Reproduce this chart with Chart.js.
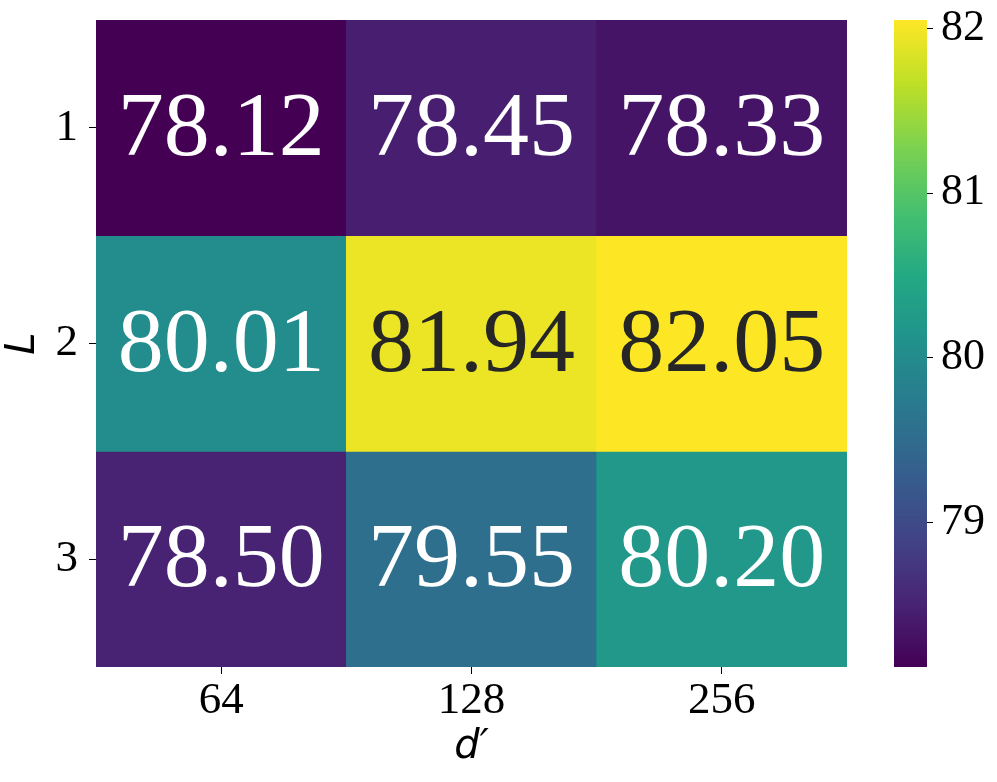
<!DOCTYPE html>
<html>
<head>
<meta charset="utf-8">
<script src="https://cdn.jsdelivr.net/npm/chart.js@4"></script>
<style>
  html, body { margin: 0; padding: 0; background: #fff; }
  #wrap { width: 997px; height: 782px; }
</style>
</head>
<body>
<div id="wrap"><canvas id="heat" width="997" height="782"></canvas></div>
<script>
// heatmap values, rows = L, columns = d'
const colLabels = ['64', '128', '256'];
const rowLabels = ['1', '2', '3'];
const row1 = [78.12, 78.45, 78.33];
const row2 = [80.01, 81.94, 82.05];
const row3 = [78.50, 79.55, 80.20];
const rows = [row1, row2, row3];
const cbarTicks = [79, 80, 81, 82];

const vmin = Math.min(...rows.flat());
const vmax = Math.max(...rows.flat());

// viridis stops
const viridis = ['#440154', '#482475', '#414487', '#355f8d', '#2a788e', '#21918c',
  '#22a884', '#44bf70', '#7ad151', '#bddf26', '#fde725'];

function hex2rgb(h) {
  return [parseInt(h.slice(1, 3), 16), parseInt(h.slice(3, 5), 16), parseInt(h.slice(5, 7), 16)];
}
function cmap(t) {
  t = Math.max(0, Math.min(1, t));
  const p = t * (viridis.length - 1);
  const i = Math.min(Math.floor(p), viridis.length - 2);
  const f = p - i;
  const a = hex2rgb(viridis[i]), b = hex2rgb(viridis[i + 1]);
  return a.map((c, k) => Math.round(c + (b[k] - c) * f));
}
function colorFor(v) {
  const c = cmap((v - vmin) / (vmax - vmin));
  return 'rgb(' + c.join(',') + ')';
}
function textColorFor(v) {
  const c = cmap((v - vmin) / (vmax - vmin)).map(x => {
    x /= 255;
    return x <= 0.03928 ? x / 12.92 : Math.pow((x + 0.055) / 1.055, 2.4);
  });
  const lum = 0.2126 * c[0] + 0.7152 * c[1] + 0.0722 * c[2];
  return lum > 0.408 ? '#262626' : '#ffffff';
}

const serif = '"Liberation Serif", "DejaVu Serif", serif';

// labels inside cells + colorbar
const heatPlugin = {
  id: 'heatExtras',
  afterDatasetsDraw(chart) {
    const ctx = chart.ctx;
    ctx.save();
    ctx.font = '92px ' + serif;
    ctx.textAlign = 'center';
    ctx.textBaseline = 'middle';
    chart.data.datasets.forEach((ds, i) => {
      const meta = chart.getDatasetMeta(i);
      meta.data.forEach((bar, j) => {
        const v = rows[i][j];
        ctx.fillStyle = textColorFor(v);
        ctx.fillText(v.toFixed(2), bar.x, (bar.y + bar.base) / 2 + 3);
      });
    });
    ctx.restore();
  },
  afterDraw(chart) {
    const ctx = chart.ctx;
    const s = chart.scales.cb;
    const x0 = 894, w = 33;
    const top = s.getPixelForValue(vmax), bot = s.getPixelForValue(vmin);
    ctx.save();
    for (let y = Math.floor(top); y < bot; y++) {
      const v = s.getValueForPixel(y + 0.5);
      ctx.fillStyle = colorFor(v);
      ctx.fillRect(x0, y, w, 1);
    }
    ctx.strokeStyle = '#000';
    ctx.lineWidth = 1;
    cbarTicks.forEach(t => {
      const y = Math.round(s.getPixelForValue(t)) + 0.5;
      ctx.beginPath();
      ctx.moveTo(x0 + w, y);
      ctx.lineTo(x0 + w + 6, y);
      ctx.stroke();
    });
    ctx.restore();
  }
};

const datasets = rows.map((r, i) => ({
  label: 'L=' + rowLabels[i],
  data: r.map(() => 1),
  backgroundColor: r.map(colorFor),
  borderWidth: 0,
  barPercentage: 1,
  categoryPercentage: 1,
  yAxisID: 'y'
}));

new Chart(document.getElementById('heat'), {
  type: 'bar',
  data: { labels: colLabels, datasets: datasets },
  options: {
    responsive: false,
    animation: false,
    layout: { padding: { top: 20, left: 0, right: 0, bottom: 0 } },
    plugins: {
      legend: { display: false },
      tooltip: { enabled: false }
    },
    scales: {
      x: {
        stacked: true,
        grid: { drawOnChartArea: false, offset: false, tickLength: 7, color: '#000', tickColor: '#000' },
        border: { display: false },
        ticks: { color: '#000', font: { family: serif, size: 45 }, padding: 0 },
        title: {
          display: true, text: 'd\u2032', color: '#000', padding: { top: 0, bottom: 10 },
          font: { family: '"DejaVu Sans", sans-serif', size: 40, style: 'italic' }
        },
        afterFit(scale) { scale.height = 115; scale.paddingLeft = 0; scale.paddingRight = 0; }
      },
      y: {
        stacked: true,
        reverse: true,
        min: 0,
        max: 3,
        grid: { drawOnChartArea: false, tickLength: 7, color: '#000', tickColor: '#000' },
        border: { display: false },
        afterBuildTicks(scale) {
          scale.ticks = rowLabels.map((_, i) => ({ value: i + 0.5 }));
        },
        ticks: {
          color: '#000', font: { family: serif, size: 45 }, padding: 11,
          callback: (v) => rowLabels[Math.floor(v)]
        },
        title: {
          display: true, text: 'L', color: '#000', padding: 0,
          font: { family: '"DejaVu Sans", sans-serif', size: 40, style: 'italic' }
        },
        afterFit(scale) { scale.width = 96; scale.paddingTop = 0; scale.paddingBottom = 0; }
      },
      cb: {
        type: 'linear',
        position: 'right',
        min: vmin,
        max: vmax,
        grid: { display: false, drawTicks: false },
        border: { display: false },
        afterBuildTicks(scale) {
          scale.ticks = cbarTicks.map(v => ({ value: v }));
        },
        ticks: { color: '#000', font: { family: serif, size: 44 }, padding: 94 },
        afterFit(scale) { scale.width = 150; scale.paddingTop = 0; scale.paddingBottom = 0; }
      }
    }
  },
  plugins: [heatPlugin]
});
</script>
</body>
</html>
